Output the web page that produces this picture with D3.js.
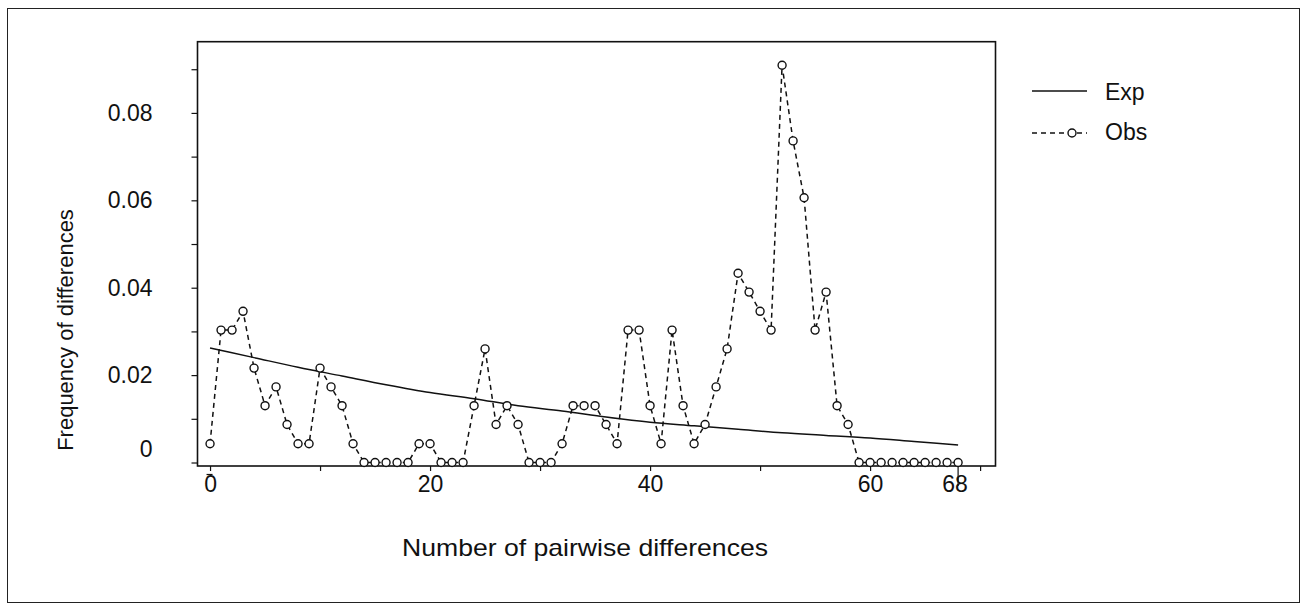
<!DOCTYPE html>
<html>
<head>
<meta charset="utf-8">
<script src="https://cdn.jsdelivr.net/npm/d3@7/dist/d3.min.js"></script>
<style>
body { margin: 0; background: #fff; }
svg { display: block; font-family: "Liberation Sans", Arial, sans-serif; }
</style>
</head>
<body>
<div id="container"><svg></svg></div>
<script>
// observed frequency of each number of pairwise differences (0..68)
let obs_freq = [0.0043, 0.0303, 0.0303, 0.0346, 0.0216, 0.0130, 0.0173, 0.0087, 0.0043, 0.0043,
    0.0216, 0.0173, 0.0130, 0.0043, 0, 0, 0, 0, 0, 0.0043,
    0.0043, 0, 0, 0, 0.0130, 0.0260, 0.0087, 0.0130, 0.0087, 0,
    0, 0, 0.0043, 0.0130, 0.0130, 0.0130, 0.0087, 0.0043, 0.0303, 0.0303,
    0.0130, 0.0043, 0.0303, 0.0130, 0.0043, 0.0087, 0.0173, 0.0260, 0.0433, 0.0390,
    0.0346, 0.0303, 0.0909, 0.0736, 0.0606, 0.0303, 0.0390, 0.0130, 0.0087, 0,
    0, 0, 0, 0, 0, 0, 0, 0, 0];
// expected curve, read at a few points
let exp_x = [0, 4, 8, 12, 16, 20, 24, 28, 32, 36, 40, 44, 48, 52, 56, 60, 64, 68];
let exp_freq = [0.0262, 0.0240, 0.0218, 0.0198, 0.0178, 0.0160, 0.0146, 0.0130, 0.0118, 0.0104,
    0.0092, 0.0084, 0.0076, 0.0068, 0.0062, 0.0056, 0.0048, 0.0040];

let x_ticks = [0, 10, 20, 30, 40, 50, 60, 70];
let x_labels = [0, 20, 40, 60];
let y_ticks = [0, 0.01, 0.02, 0.03, 0.04, 0.05, 0.06, 0.07, 0.08, 0.09];
let y_labels = [0, 0.02, 0.04, 0.06, 0.08];
let max_diff = 68;

let _width = 1309;
let _height = 610;
let fontSize = 23;

function draw_main() {
    let svg = d3.select('#container').select('svg')
        .attr('width', _width)
        .attr('height', _height);

    // outer border
    svg.append('rect')
        .attr('x', 7.5).attr('y', 8.5)
        .attr('width', 1292).attr('height', 594)
        .attr('fill', 'none')
        .attr('stroke', '#222')
        .attr('stroke-width', 1);

    let x = d3.scaleLinear()
        .domain([-1.14, 71.4])
        .range([197.5, 995.5]);
    let y = d3.scaleLinear()
        .domain([-0.0008, 0.0963])
        .range([466, 41.7]);

    // plot frame
    svg.append('rect')
        .attr('x', x.range()[0]).attr('y', y.range()[1])
        .attr('width', x.range()[1] - x.range()[0])
        .attr('height', y.range()[0] - y.range()[1])
        .attr('fill', 'none')
        .attr('stroke', '#111')
        .attr('stroke-width', 1.6);

    // y axis
    let axis_y = d3.axisLeft(y)
        .tickValues(y_ticks)
        .tickSize(6)
        .tickPadding(39)
        .tickFormat(d => y_labels.some(v => Math.abs(v - d) < 1e-9) ? (d === 0 ? '0' : d3.format('.2f')(d)) : '');
    let gy = svg.append('g')
        .attr('transform', `translate(${x.range()[0]}, 0)`)
        .call(axis_y)
        .attr('font-family', null)
        .attr('font-size', fontSize);
    gy.select('.domain').remove();
    gy.selectAll('line').attr('stroke', '#111').attr('stroke-width', 1.2);
    gy.selectAll('text').attr('fill', '#111')
        .attr('dy', d => d === 0 ? '-0.25em' : '0.32em');

    // x axis
    let axis_x = d3.axisBottom(x)
        .tickValues(x_ticks)
        .tickSize(5)
        .tickPadding(5)
        .tickFormat(d => x_labels.includes(d) ? d : '');
    let gx = svg.append('g')
        .attr('transform', `translate(0, ${y.range()[0]})`)
        .call(axis_x)
        .attr('font-family', null)
        .attr('font-size', fontSize);
    gx.select('.domain').remove();
    gx.selectAll('line').attr('stroke', '#111').attr('stroke-width', 1.2);
    gx.selectAll('text').attr('fill', '#111');

    // long tick and label for the largest difference
    let gmax = svg.append('g')
        .attr('transform', `translate(${x(max_diff)}, ${y.range()[0]})`);
    gmax.append('line')
        .attr('y1', -2).attr('y2', 20)
        .attr('stroke', '#111').attr('stroke-width', 1.2);
    gmax.append('text')
        .attr('x', -3).attr('y', 10)
        .attr('dy', '0.71em')
        .attr('text-anchor', 'middle')
        .attr('font-size', fontSize)
        .attr('fill', '#111')
        .text(max_diff);
    // small dash under the 0 tick
    svg.append('line')
        .attr('x1', x(0) - 3.5).attr('x2', x(0) + 2.5)
        .attr('y1', 474.5).attr('y2', 474.5)
        .attr('stroke', '#111').attr('stroke-width', 1.2);

    // expected curve
    let line_exp = d3.line()
        .x((d, i) => x(exp_x[i]))
        .y(d => y(d))
        .curve(d3.curveMonotoneX);
    svg.append('path')
        .datum(exp_freq)
        .attr('d', line_exp)
        .attr('fill', 'none')
        .attr('stroke', '#111')
        .attr('stroke-width', 1.5);

    // observed
    let line_obs = d3.line()
        .x((d, i) => x(i))
        .y(d => y(d));
    svg.append('path')
        .datum(obs_freq)
        .attr('d', line_obs)
        .attr('fill', 'none')
        .attr('stroke', '#111')
        .attr('stroke-width', 1.5)
        .attr('stroke-dasharray', '5,4');
    svg.append('g')
        .selectAll('circle')
        .data(obs_freq)
        .enter().append('circle')
        .attr('cx', (d, i) => x(i))
        .attr('cy', d => y(d))
        .attr('r', 4)
        .attr('fill', '#fff')
        .attr('stroke', '#111')
        .attr('stroke-width', 1.4);

    // axis titles
    svg.append('text')
        .attr('transform', 'translate(65, 330) rotate(-90)')
        .attr('text-anchor', 'middle')
        .attr('dy', '0.35em')
        .attr('font-size', 22)
        .attr('fill', '#111')
        .text('Frequency of differences');
    svg.append('text')
        .attr('x', 585).attr('y', 548)
        .attr('text-anchor', 'middle')
        .attr('dy', '0.35em')
        .attr('font-size', 24)
        .attr('textLength', 366)
        .attr('lengthAdjust', 'spacingAndGlyphs')
        .attr('fill', '#111')
        .text('Number of pairwise differences');

    // legend
    let lg = svg.append('g').attr('transform', 'translate(1032, 0)');
    lg.append('line')
        .attr('x1', 0).attr('x2', 55)
        .attr('y1', 91).attr('y2', 91)
        .attr('stroke', '#111').attr('stroke-width', 1.5);
    lg.append('text')
        .attr('x', 73).attr('y', 92).attr('dy', '0.35em')
        .attr('font-size', fontSize).attr('fill', '#111')
        .text('Exp');
    lg.append('line')
        .attr('x1', 0).attr('x2', 55)
        .attr('y1', 133).attr('y2', 133)
        .attr('stroke', '#111').attr('stroke-width', 1.5)
        .attr('stroke-dasharray', '5,4');
    lg.append('circle')
        .attr('cx', 40).attr('cy', 133).attr('r', 4)
        .attr('fill', '#fff').attr('stroke', '#111').attr('stroke-width', 1.4);
    lg.append('text')
        .attr('x', 73).attr('y', 132).attr('dy', '0.35em')
        .attr('font-size', fontSize).attr('fill', '#111')
        .text('Obs');
}

draw_main();
</script>
</body>
</html>
